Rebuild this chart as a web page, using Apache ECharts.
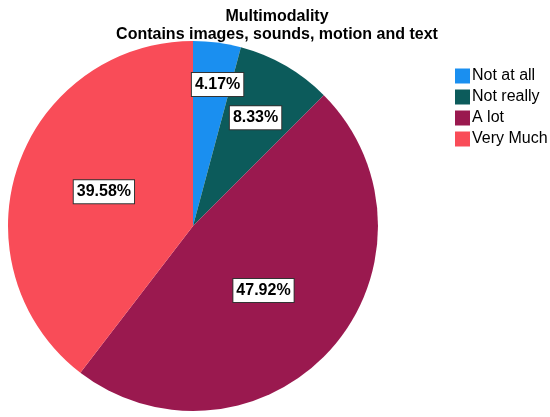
<!DOCTYPE html>
<html>
<head>
<meta charset="utf-8">
<script src="https://cdn.jsdelivr.net/npm/echarts@6/dist/echarts.min.js"></script>
<style>
  html, body { margin: 0; padding: 0; background: #fff; }
  #pie { width: 550px; height: 417px; }
</style>
</head>
<body>
<div id="pie"></div>
<script>
// data
const categories = ['Not at all', 'Not really', 'A lot', 'Very Much']
const percents = [4.17, 8.33, 47.92, 39.58]
const colors = ['#1a8ff0', '#0c5b5b', '#9a194f', '#f94c58']

const R = 185
// where each label sits: fraction of radius + small angle nudge (deg)
const labelFrac = [0.76, 0.66, 0.5, 0.5]
const labelTurn = [2.4, 0, 1.2, 2.4]

// mid angle of every slice, clockwise from 12 o'clock
const total = percents.reduce((a, b) => a + b, 0)
let acc = 0
const midAngles = percents.map((v) => {
  const mid = (acc + v / 2) / total * 2 * Math.PI
  acc += v
  return mid
})

const chart = echarts.init(document.getElementById('pie'))
const font = '"Liberation Sans", Arial, sans-serif'

const option = {
  animation: false,
  color: colors,
  title: {
    text: 'Multimodality\nContains images, sounds, motion and text',
    left: 272,
    textAlign: 'center',
    top: 3,
    textStyle: {
      fontFamily: font,
      fontSize: 16,
      fontWeight: 'bold',
      color: '#000',
      lineHeight: 18,
    },
  },
  legend: {
    orient: 'vertical',
    left: 450,
    top: 63,
    itemWidth: 15,
    itemHeight: 15,
    itemGap: 5,
    icon: 'rect',
    selectedMode: false,
    textStyle: {
      fontFamily: font,
      fontSize: 16,
      lineHeight: 16,
      color: '#000',
      padding: [0, 0, 0, -3],
    },
    data: categories,
  },
  series: [
    {
      type: 'pie',
      center: [193, 226],
      radius: R,
      startAngle: 90,
      clockwise: true,
      avoidLabelOverlap: false,
      emphasis: { disabled: true },
      itemStyle: { borderWidth: 0 },
      label: {
        show: true,
        position: 'inside',
        formatter: (p) => p.value.toFixed(2) + '%',
        fontFamily: font,
        fontSize: 16,
        fontWeight: 'bold',
        color: '#000',
        backgroundColor: '#fff',
        borderColor: '#333',
        borderWidth: 1,
        padding: [4, 3, 3, 3],
      },
      labelLayout: function (params) {
        const i = params.dataIndex
        // label is placed at 0.5R by 'inside', move it to the wanted spot
        const a = midAngles[i]
        const b = a + labelTurn[i] * Math.PI / 180
        const r1 = 0.5 * R
        const r2 = labelFrac[i] * R
        return {
          dx: r2 * Math.sin(b) - r1 * Math.sin(a),
          dy: -r2 * Math.cos(b) + r1 * Math.cos(a),
        }
      },
      labelLine: { show: false },
      data: categories.map((name, i) => ({ name: name, value: percents[i] })),
    },
  ],
}

chart.setOption(option)
window.addEventListener('resize', () => {
  chart.resize()
})
</script>
</body>
</html>
